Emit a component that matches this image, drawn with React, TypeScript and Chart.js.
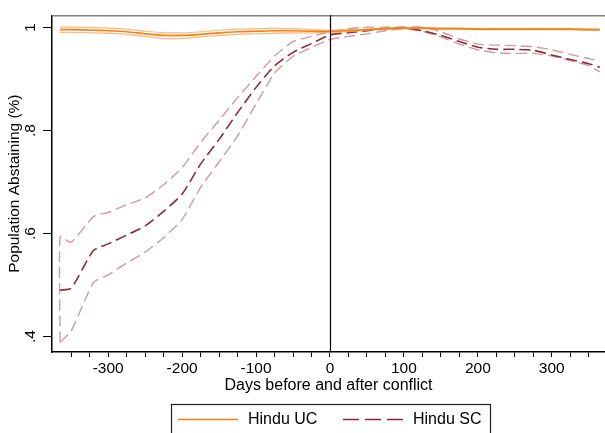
import React, { useEffect, useRef } from "react";
import { Chart, registerables } from "chart.js";

Chart.register(...registerables);

// ---- data ----
const days = [-365, -350, -320, -300, -275, -250, -225, -200, -175, -150, -125, -100, -75, -50, -25, 0, 25, 50, 75, 100, 125, 150, 175, 200, 225, 250, 275, 300, 325, 350, 365];

const ucMean = [0.996, 0.996, 0.995, 0.994, 0.992, 0.988, 0.985, 0.985, 0.987, 0.990, 0.992, 0.993, 0.994, 0.994, 0.993, 0.993, 0.994, 0.996, 0.998, 0.999, 0.999, 0.998, 0.998, 0.997, 0.997, 0.997, 0.997, 0.997, 0.997, 0.996, 0.996];
const ucUpper = [1.001, 1.001, 1.000, 0.999, 0.997, 0.993, 0.990, 0.990, 0.992, 0.995, 0.997, 0.998, 0.999, 0.998, 0.996, 0.995, 0.996, 0.997, 0.999, 1.000, 1.000, 0.999, 0.999, 0.998, 0.998, 0.998, 0.998, 0.998, 0.998, 0.997, 0.997];
const ucLower = [0.991, 0.991, 0.990, 0.989, 0.987, 0.983, 0.979, 0.979, 0.982, 0.985, 0.987, 0.988, 0.989, 0.990, 0.990, 0.991, 0.992, 0.995, 0.997, 0.998, 0.998, 0.997, 0.997, 0.996, 0.996, 0.996, 0.996, 0.996, 0.996, 0.995, 0.995];

const scMean = [0.490, 0.494, 0.567, 0.580, 0.597, 0.615, 0.643, 0.677, 0.735, 0.783, 0.835, 0.884, 0.926, 0.952, 0.969, 0.986, 0.990, 0.994, 0.998, 1.000, 0.994, 0.985, 0.973, 0.962, 0.958, 0.958, 0.956, 0.947, 0.938, 0.930, 0.923];
const scUpper = [0.594, 0.583, 0.633, 0.641, 0.656, 0.669, 0.695, 0.728, 0.777, 0.820, 0.864, 0.905, 0.945, 0.973, 0.983, 0.992, 0.998, 1.001, 1.001, 1.001, 1.001, 0.992, 0.978, 0.968, 0.966, 0.965, 0.963, 0.957, 0.948, 0.940, 0.935];
const scLower = [0.389, 0.411, 0.505, 0.520, 0.543, 0.564, 0.592, 0.627, 0.690, 0.739, 0.790, 0.852, 0.912, 0.944, 0.962, 0.977, 0.983, 0.988, 0.994, 0.998, 0.993, 0.982, 0.968, 0.957, 0.951, 0.950, 0.950, 0.945, 0.936, 0.926, 0.914];

const xTickValues = [-350, -325, -300, -275, -250, -225, -200, -175, -150, -125, -100, -75, -50, -25, 0, 25, 50, 75, 100, 125, 150, 175, 200, 225, 250, 275, 300, 325, 350];
const xLabeled = [-300, -200, -100, 0, 100, 200, 300];
const yTickValues = [0.4, 0.6, 0.8, 1];
const yTickLabels = [".4", ".6", ".8", "1"];
const seriesLabels = ["Hindu UC", "Hindu SC"];

const UC_MAIN = "#f7800f";
const UC_CI = "rgba(252,160,80,0.75)";
const SC_MAIN = "#8c2a36";
const SC_CI = "#cc9ba0";
const DASH = [11, 5];
const FONT = "'Liberation Sans', Arial, Helvetica, sans-serif";

const toPts = (ys: number[]) => days.map((d, i) => ({ x: d, y: ys[i] }));

const decor = {
  id: "decor",
  afterDatasetsDraw(chart: any) {
    const { ctx, chartArea, scales } = chart;
    const { left, right, top, bottom } = chartArea;
    ctx.save();
    ctx.strokeStyle = "#808080";
    ctx.lineWidth = 1.5;
    ctx.beginPath();
    ctx.moveTo(left, top + 0.5);
    ctx.lineTo(right, top + 0.5);
    ctx.stroke();
    const x0 = Math.round(scales.x.getPixelForValue(0)) + 0.5;
    ctx.strokeStyle = "#000";
    ctx.lineWidth = 1.2;
    ctx.beginPath();
    ctx.moveTo(x0, top);
    ctx.lineTo(x0, bottom);
    ctx.stroke();
    ctx.restore();
  },
  afterDraw(chart: any) {
    const { ctx } = chart;
    ctx.save();
    ctx.strokeStyle = "#222";
    ctx.lineWidth = 1.2;
    ctx.strokeRect(171.5, 404.5, 319, 40);
    const y = 419.5;
    ctx.lineWidth = 1.6;
    ctx.strokeStyle = UC_MAIN;
    ctx.setLineDash([]);
    ctx.beginPath();
    ctx.moveTo(178, y);
    ctx.lineTo(238, y);
    ctx.stroke();
    ctx.strokeStyle = SC_MAIN;
    ctx.setLineDash([16, 6]);
    ctx.beginPath();
    ctx.moveTo(343, y);
    ctx.lineTo(403, y);
    ctx.stroke();
    ctx.setLineDash([]);
    ctx.fillStyle = "#000";
    ctx.font = `16px ${FONT}`;
    ctx.textBaseline = "middle";
    ctx.textAlign = "left";
    ctx.fillText(seriesLabels[0], 248, y);
    ctx.fillText(seriesLabels[1], 413, y);
    ctx.restore();
  },
};

export default function App() {
  const ref = useRef<HTMLCanvasElement | null>(null);
  useEffect(() => {
    document.body.style.margin = "0";
    const canvas = ref.current!;
    const scUpperPts = [{ x: days[0], y: scLower[0] }, ...toPts(scUpper)];
    const chart = new Chart(canvas, {
      type: "line",
      data: {
        datasets: [
          { label: seriesLabels[0], data: toPts(ucMean), borderColor: UC_MAIN, borderWidth: 1.7, pointRadius: 0, tension: 0.25, order: 0 },
          { label: "UC upper", data: toPts(ucUpper), borderColor: UC_CI, borderWidth: 1.2, pointRadius: 0, tension: 0.25, order: 1 },
          { label: "UC lower", data: toPts(ucLower), borderColor: UC_CI, borderWidth: 1.2, pointRadius: 0, tension: 0.25, order: 1 },
          { label: seriesLabels[1], data: toPts(scMean), borderColor: SC_MAIN, borderWidth: 1.6, borderDash: DASH, pointRadius: 0, tension: 0.2, order: 2 },
          { label: "SC upper", data: scUpperPts, borderColor: SC_CI, borderWidth: 1.4, borderDash: DASH, pointRadius: 0, tension: 0.15, order: 3 },
          { label: "SC lower", data: toPts(scLower), borderColor: SC_CI, borderWidth: 1.4, borderDash: DASH, pointRadius: 0, tension: 0.15, order: 3 },
        ],
      },
      options: {
        animation: false,
        responsive: false,
        devicePixelRatio: 1,
        layout: { padding: { top: 8, left: 0, right: 0, bottom: 0 } },
        plugins: { legend: { display: false }, tooltip: { enabled: false } },
        font: { family: FONT },
        scales: {
          x: {
            type: "linear",
            min: -376,
            max: 372,
            afterBuildTicks: (s: any) => {
              s.ticks = xTickValues.map((v) => ({ value: v }));
            },
            afterFit: (s: any) => {
              s.height = 81;
            },
            ticks: {
              autoSkip: false,
              minRotation: 0,
              maxRotation: 0,
              padding: 2,
              color: "#000",
              font: { family: FONT, size: 15.5 },
              callback: (v: any) => (xLabeled.includes(Number(v)) ? String(v) : ""),
            },
            grid: { drawOnChartArea: false, drawTicks: true, tickLength: 5, color: "#000", tickWidth: 1 },
            border: { color: "#000", width: 1.5 },
            title: { display: true, text: "Days before and after conflict", color: "#000", font: { family: FONT, size: 16 }, padding: { top: 0, bottom: 38 } },
          },
          y: {
            type: "linear",
            min: 0.37,
            max: 1.024,
            afterBuildTicks: (s: any) => {
              s.ticks = yTickValues.map((v) => ({ value: v }));
            },
            afterFit: (s: any) => {
              s.width = 52;
            },
            ticks: {
              autoSkip: false,
              minRotation: 90,
              maxRotation: 90,
              crossAlign: "center",
              padding: 6,
              color: "#000",
              font: { family: FONT, size: 15.5 },
              callback: (_v: any, i: number) => yTickLabels[i],
            },
            grid: { drawOnChartArea: false, drawTicks: true, tickLength: 9, color: "#000", tickWidth: 1 },
            border: { color: "#000", width: 1.5 },
            title: { display: true, text: "Population Abstaining (%)", color: "#000", font: { family: FONT, size: 15.5 }, padding: { top: 5, bottom: 0 } },
          },
        },
      },
      plugins: [decor],
    } as any);
    return () => chart.destroy();
  }, []);
  return (
    <div style={{ position: "absolute", left: 0, top: 0, width: 605, height: 433, background: "#fff" }}>
      <canvas ref={ref} width={605} height={433} style={{ width: 605, height: 433, display: "block" }} />
    </div>
  );
}
